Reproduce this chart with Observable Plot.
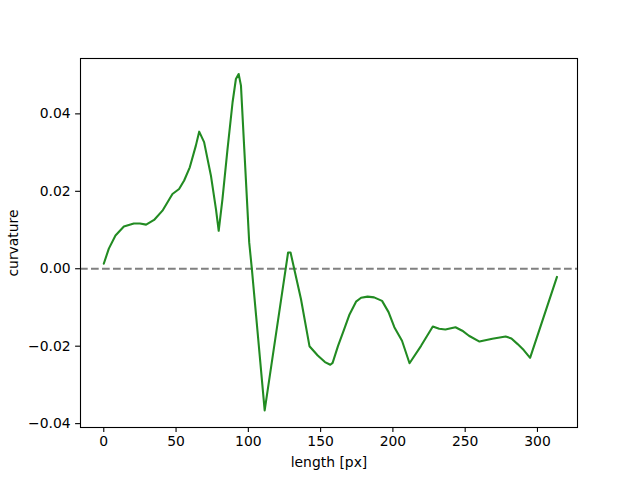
<!DOCTYPE html>
<html>
<head>
<meta charset="utf-8">
<script src="https://cdn.jsdelivr.net/npm/d3@7"></script>
<script src="https://cdn.jsdelivr.net/npm/@observablehq/plot@0.6"></script>
<style>
  html, body { margin: 0; padding: 0; background: white; }
  svg { display: block; }
</style>
</head>
<body>
<div id="chart"></div>
<script>
const lengthPx = [0, 3.5, 8.1, 13.9, 20.8, 25, 29.3, 34.8, 40.6, 47.5, 52.1, 55.6, 59.5, 63.7, 66, 69.4, 74.1, 77.6, 79.5, 82.1, 85.6, 89.1, 91.4, 93.3, 94.9, 97.2, 100.6, 102.5, 111.3, 127.5, 129.2, 136.4, 142.3, 148, 153, 156.7, 158.3, 162, 166.2, 170, 174.5, 178, 182.5, 187, 192.5, 197, 201, 206.3, 211.5, 219.5, 227.6, 232, 236.3, 243.3, 248, 252.6, 259.9, 268.8, 278, 282, 286.1, 290.5, 294.9, 313.5];
const curvature = [0.0013, 0.0052, 0.0086, 0.0109, 0.0117, 0.0117, 0.0114, 0.0126, 0.0150, 0.0193, 0.0206, 0.0228, 0.0262, 0.0318, 0.0354, 0.0327, 0.0241, 0.0154, 0.0098, 0.0180, 0.0309, 0.0430, 0.0490, 0.0503, 0.0473, 0.0309, 0.0068, -0.0003, -0.0366, 0.0042, 0.0042, -0.0078, -0.0200, -0.0224, -0.0241, -0.0248, -0.0243, -0.0200, -0.0157, -0.0118, -0.0085, -0.0075, -0.0072, -0.0074, -0.0083, -0.0112, -0.0151, -0.0186, -0.0244, -0.0199, -0.0149, -0.0155, -0.0157, -0.0151, -0.0160, -0.0173, -0.0188, -0.0181, -0.0175, -0.0180, -0.0194, -0.0210, -0.0230, -0.0021];
const xTicks = [0, 50, 100, 150, 200, 250, 300];
const yTicks = [-0.04, -0.02, 0.00, 0.02, 0.04];

const data = lengthPx.map((x, i) => ({x, y: curvature[i]}));
const fmtY = d => (d < 0 ? "\u2212" : "") + Math.abs(d).toFixed(2);

const chart = Plot.plot({
  width: 640,
  height: 480,
  marginLeft: 80,
  marginRight: 63,
  marginTop: 58,
  marginBottom: 53,
  style: {fontFamily: "DejaVu Sans, sans-serif", fontSize: "13.9px", color: "black", background: "white"},
  x: {domain: [-16.1, 327.7]},
  y: {domain: [-0.0410, 0.0543]},
  marks: [
    Plot.ruleY([0], {stroke: "#808080", strokeWidth: 2.08, strokeDasharray: "7.7,3.3"}),
    Plot.line(data, {x: "x", y: "y", stroke: "#228B22", strokeWidth: 2.08, curve: "linear"}),
    Plot.frame({stroke: "black", strokeWidth: 1.1}),
    Plot.axisX({ticks: xTicks, tickSize: 4.9, tickPadding: 4.2, strokeWidth: 1.1, label: "length [px]", labelAnchor: "center", labelArrow: "none", labelOffset: 39, fontSize: 13.9}),
    Plot.axisY({ticks: yTicks, tickFormat: fmtY, tickSize: 4.9, tickPadding: 4.9, strokeWidth: 1.1, label: "curvature", labelAnchor: "center", labelArrow: "none", labelOffset: 72, fontSize: 13.9})
  ]
});
document.getElementById("chart").appendChild(chart);
</script>
</body>
</html>
